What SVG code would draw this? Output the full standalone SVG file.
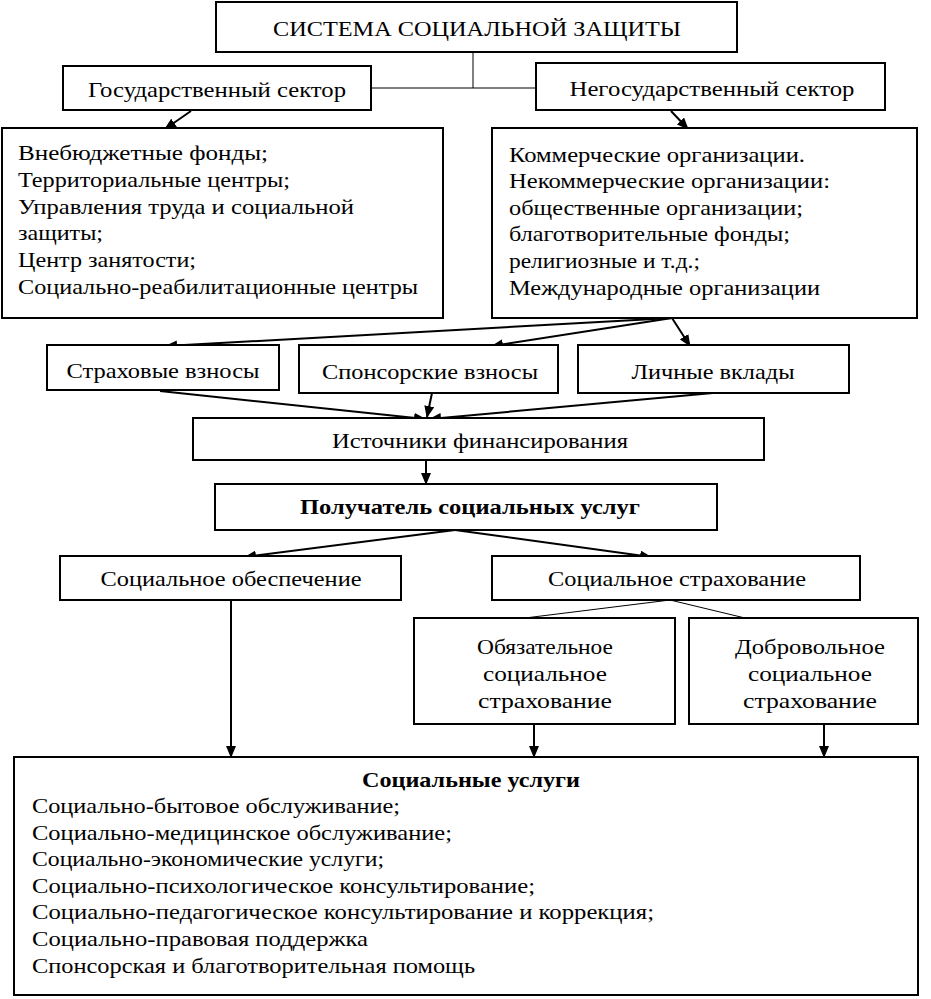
<svg xmlns="http://www.w3.org/2000/svg" width="931" height="999" viewBox="0 0 931 999">
<defs>
<marker id="arr" markerUnits="userSpaceOnUse" markerWidth="12" markerHeight="10" refX="11" refY="5" orient="auto">
<path d="M0,0 L12,5 L0,10 z" fill="#000"/>
</marker>
<style>
.box{fill:#fff;stroke:#000;stroke-width:2}
text{font-family:'Liberation Serif','DejaVu Serif',serif;font-size:22px;fill:#000}
.c{text-anchor:middle}
.b{font-weight:bold}
.ln{stroke:#000;stroke-width:2;fill:none;marker-end:url(#arr)}
.thin{stroke:#000;stroke-width:1;fill:none}
</style>
</defs>
<rect width="931" height="999" fill="#fff"/>
<g id="connectors">
<line class="thin" x1="473" y1="52" x2="473" y2="88"/>
<line class="thin" x1="371" y1="88" x2="536" y2="88"/>
<line class="ln" x1="191" y1="111" x2="165" y2="129"/>
<line class="ln" x1="671" y1="111" x2="688" y2="129"/>
<line class="ln" x1="672" y1="318" x2="166" y2="346"/>
<line class="ln" x1="672" y1="318" x2="492" y2="346"/>
<line class="ln" x1="672" y1="318" x2="690" y2="346"/>
<line class="ln" x1="160" y1="391" x2="425" y2="419"/>
<line class="ln" x1="432" y1="393" x2="427" y2="417"/>
<line class="ln" x1="713" y1="393" x2="430" y2="419"/>
<line class="ln" x1="426" y1="460" x2="426" y2="484"/>
<line class="ln" x1="455" y1="530" x2="245" y2="557"/>
<line class="ln" x1="455" y1="530" x2="651" y2="557"/>
<line class="thin" x1="670" y1="600" x2="525" y2="618"/>
<line class="thin" x1="670" y1="600" x2="745" y2="618"/>
<line class="ln" x1="231" y1="600" x2="231" y2="757"/>
<line class="ln" x1="534" y1="724" x2="534" y2="757"/>
<line class="ln" x1="824" y1="724" x2="824" y2="757"/>
</g>
<g id="system">
<rect class="box" x="216" y="2" width="521" height="50"/>
<text class="c" x="477" y="36" textLength="408" lengthAdjust="spacingAndGlyphs">СИСТЕМА СОЦИАЛЬНОЙ ЗАЩИТЫ</text>
</g>
<g id="gov">
<rect class="box" x="63" y="66" width="308" height="44"/>
<text class="c" x="217" y="97" textLength="258" lengthAdjust="spacingAndGlyphs">Государственный сектор</text>
</g>
<g id="nongov">
<rect class="box" x="536" y="63" width="349" height="47"/>
<text class="c" x="712" y="96" textLength="285" lengthAdjust="spacingAndGlyphs">Негосударственный сектор</text>
</g>
<g id="gov-list">
<rect class="box" x="2" y="128" width="441" height="190"/>
<text x="18" y="160" textLength="250" lengthAdjust="spacingAndGlyphs">Внебюджетные фонды;</text>
<text x="18" y="187" textLength="272" lengthAdjust="spacingAndGlyphs">Территориальные центры;</text>
<text x="18" y="214" textLength="336" lengthAdjust="spacingAndGlyphs">Управления труда и социальной</text>
<text x="18" y="240" textLength="85" lengthAdjust="spacingAndGlyphs">защиты;</text>
<text x="18" y="267" textLength="178" lengthAdjust="spacingAndGlyphs">Центр занятости;</text>
<text x="18" y="294" textLength="400" lengthAdjust="spacingAndGlyphs">Социально-реабилитационные центры</text>
</g>
<g id="nongov-list">
<rect class="box" x="492" y="128" width="425" height="190"/>
<text x="509" y="162" textLength="296" lengthAdjust="spacingAndGlyphs">Коммерческие организации.</text>
<text x="509" y="188" textLength="321" lengthAdjust="spacingAndGlyphs">Некоммерческие организации:</text>
<text x="509" y="215" textLength="294" lengthAdjust="spacingAndGlyphs">общественные организации;</text>
<text x="509" y="241" textLength="281" lengthAdjust="spacingAndGlyphs">благотворительные фонды;</text>
<text x="509" y="268" textLength="191" lengthAdjust="spacingAndGlyphs">религиозные и т.д.;</text>
<text x="509" y="295" textLength="311" lengthAdjust="spacingAndGlyphs">Международные организации</text>
</g>
<g id="insurance-fees">
<rect class="box" x="47" y="345" width="232" height="45"/>
<text class="c" x="163" y="378" textLength="193" lengthAdjust="spacingAndGlyphs">Страховые взносы</text>
</g>
<g id="sponsor-fees">
<rect class="box" x="299" y="345" width="259" height="48"/>
<text class="c" x="430" y="379" textLength="216" lengthAdjust="spacingAndGlyphs">Спонсорские взносы</text>
</g>
<g id="personal">
<rect class="box" x="578" y="345" width="271" height="48"/>
<text class="c" x="713" y="379" textLength="163" lengthAdjust="spacingAndGlyphs">Личные вклады</text>
</g>
<g id="sources">
<rect class="box" x="193" y="418" width="571" height="42"/>
<text class="c" x="480" y="448" textLength="296" lengthAdjust="spacingAndGlyphs">Источники финансирования</text>
</g>
<g id="recipient">
<rect class="box" x="215" y="484" width="502" height="46"/>
<text class="c b" x="470" y="514" textLength="340" lengthAdjust="spacingAndGlyphs">Получатель социальных услуг</text>
</g>
<g id="provision">
<rect class="box" x="60" y="556" width="341" height="44"/>
<text class="c" x="231" y="586" textLength="261" lengthAdjust="spacingAndGlyphs">Социальное обеспечение</text>
</g>
<g id="insurance">
<rect class="box" x="492" y="556" width="368" height="44"/>
<text class="c" x="677" y="586" textLength="258" lengthAdjust="spacingAndGlyphs">Социальное страхование</text>
</g>
<g id="mandatory">
<rect class="box" x="414" y="618" width="261" height="106"/>
<text class="c" x="545" y="654" textLength="136" lengthAdjust="spacingAndGlyphs">Обязательное</text>
<text class="c" x="545" y="681" textLength="124" lengthAdjust="spacingAndGlyphs">социальное</text>
<text class="c" x="545" y="708" textLength="134" lengthAdjust="spacingAndGlyphs">страхование</text>
</g>
<g id="voluntary">
<rect class="box" x="689" y="618" width="229" height="106"/>
<text class="c" x="810" y="654" textLength="150" lengthAdjust="spacingAndGlyphs">Добровольное</text>
<text class="c" x="810" y="681" textLength="124" lengthAdjust="spacingAndGlyphs">социальное</text>
<text class="c" x="810" y="708" textLength="134" lengthAdjust="spacingAndGlyphs">страхование</text>
</g>
<g id="services">
<rect class="box" x="14" y="757" width="904" height="238"/>
<text class="c b" x="471" y="787" textLength="218" lengthAdjust="spacingAndGlyphs">Социальные услуги</text>
<text x="32" y="813" textLength="368" lengthAdjust="spacingAndGlyphs">Социально-бытовое обслуживание;</text>
<text x="32" y="840" textLength="420" lengthAdjust="spacingAndGlyphs">Социально-медицинское обслуживание;</text>
<text x="32" y="866" textLength="352" lengthAdjust="spacingAndGlyphs">Социально-экономические услуги;</text>
<text x="32" y="893" textLength="503" lengthAdjust="spacingAndGlyphs">Социально-психологическое консультирование;</text>
<text x="32" y="919" textLength="622" lengthAdjust="spacingAndGlyphs">Социально-педагогическое консультирование и коррекция;</text>
<text x="32" y="946" textLength="336" lengthAdjust="spacingAndGlyphs">Социально-правовая поддержка</text>
<text x="32" y="973" textLength="443" lengthAdjust="spacingAndGlyphs">Спонсорская и благотворительная помощь</text>
</g>
</svg>
